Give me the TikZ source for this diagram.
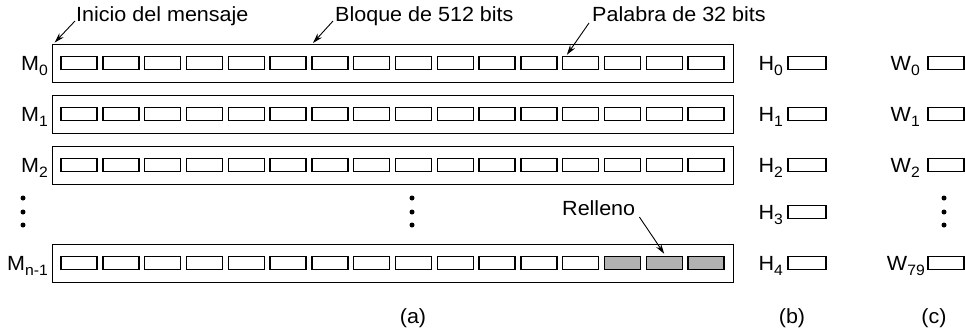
\documentclass[tikz,border=0pt]{standalone}
\usepackage{fontspec}
\setmainfont{Liberation Sans}[FakeStretch=1.05]
\usetikzlibrary{arrows.meta,calc}
\newcommand{\lowsub}[1]{\raisebox{-0.55ex}{\fontsize{15}{15}\selectfont #1}}
\tikzset{
  wbox/.style={draw, line width=1.4pt, minimum width=36pt, minimum height=13pt, inner sep=0pt},
  padbox/.style={wbox, fill=gray!60},
  blk/.style={draw, line width=0.8pt, minimum width=681pt, minimum height=38pt, inner sep=0pt},
  lbl/.style={font=\fontsize{20.5}{21}\selectfont, inner sep=0pt},
  ptr/.style={-{Stealth[length=10pt,width=6pt]}, line width=0.9pt},
  vdot/.style={circle, fill, inner sep=0pt, minimum size=5pt},
}
\begin{document}
\begin{tikzpicture}[x=1pt,y=-1pt]
\useasboundingbox (0,0) rectangle (965,333);
% message blocks
\foreach \r/\y/\s in {0/63/0,1/114/1,2/165/2,3/263/{n-1}} {
  \node[blk] (row\r) at (392.5,\y) {};
  \node[lbl, anchor=base east] (m\r) at (48,\y+7) {M\lowsub{\s}};
  \foreach \i in {0,...,15} {
    \pgfmathsetmacro\xx{79+\i*41.8}
    \ifnum\r=3 \ifnum\i>12
      \node[padbox] (b\r-\i) at (\xx,\y) {};
    \else
      \node[wbox] (b\r-\i) at (\xx,\y) {};
    \fi \else
      \node[wbox] (b\r-\i) at (\xx,\y) {};
    \fi
  }
}
% vertical ellipses
\foreach \c/\x in {l/23,m/412,r/944} {
  \foreach \k/\y in {1/198,2/212,3/225} {
    \node[vdot] (d\c\k) at (\x,\y) {};
  }
}
% H words
\foreach \k/\y in {0/63,1/114,2/165,3/212,4/263} {
  \node[wbox, minimum width=38pt] (h\k) at (807,\y) {};
  \node[lbl, anchor=base east] (hl\k) at (783,\y+7) {H\lowsub{\k}};
}
% W words
\foreach \k/\y/\s/\e in {0/63/0/920,1/114/1/920,2/165/2/920,79/263/79/925} {
  \node[wbox] (w\k) at (946,\y) {};
  \node[lbl, anchor=base east] (wl\k) at (\e,\y+7) {W\lowsub{\s}};
}
% annotations
\node[lbl, anchor=base west] (inicio) at (76,21) {Inicio del mensaje};
\node[lbl, anchor=base west] (bloque) at (335,21) {Bloque de 512 bits};
\node[lbl, anchor=base west] (palabra) at (592,21) {Palabra de 32 bits};
\node[lbl, anchor=base west] (relleno) at (562,215) {Relleno};
\coordinate (bloqtip) at (313,43);
\draw[ptr] ($(inicio.base west)+(-1,0)$) -- ($(row0.north west)+(3,-1)$);
\draw[ptr] ($(bloque.base west)+(-2,0)$) -- (bloqtip);
\draw[ptr] ($(palabra.base west)+(-3,2)$) -- ($(b0-12.north west)+(5,-1)$);
\draw[ptr] ($(relleno.base east)+(4,2)$) -- ($(b3-14.north)+(0,-2)$);
% captions
\node[lbl, anchor=base] (ca) at (413,323) {(a)};
\node[lbl, anchor=base] (cb) at (792,323) {(b)};
\node[lbl, anchor=base] (cc) at (934,323) {(c)};
\end{tikzpicture}
\end{document}
